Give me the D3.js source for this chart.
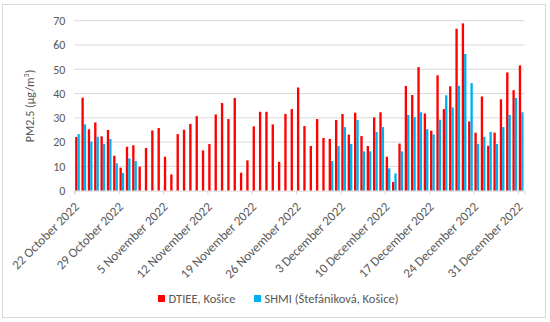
<!DOCTYPE html>
<html>
<head>
<meta charset="utf-8">
<script src="https://d3js.org/d3.v7.min.js"></script>
<style>
    body { margin: 0; background: #fff; }
    svg { font-family: Carlito, Lato, sans-serif; }
</style>
</head>
<body>
<svg width="550" height="322"></svg>
<script>
// daily PM2.5, 22 Oct 2022 .. 31 Dec 2022
var days = d3.timeDay.range(new Date(2022, 9, 22), new Date(2023, 0, 1));

var dtiee = [22.1, 38.3, 25.3, 28.1, 22.4, 25.0, 14.4, 9.5, 18.1, 18.7,
    9.9, 17.6, 24.8, 25.8, 14.0, 6.7, 23.3, 25.1, 27.5, 30.7,
    16.6, 19.2, 31.4, 36.1, 29.5, 38.2, 7.4, 12.5, 26.5, 32.5,
    32.5, 27.3, 11.9, 31.6, 33.6, 42.5, 26.6, 18.4, 29.5, 21.7,
    21.3, 29.1, 31.6, 23.1, 32.1, 22.5, 18.4, 30.2, 32.3, 14.0,
    3.6, 19.4, 43.1, 39.4, 50.9, 31.8, 24.7, 47.5, 33.6, 43.0,
    66.7, 68.9, 28.5, 23.9, 38.8, 18.5, 23.9, 37.6, 48.7, 41.4,
    51.6];

var shmi = [23.3, 27.3, 20.2, 22.2, 19.2, 21.3, 11.3, 7.3, 13.3, 12.2,
    null, null, null, null, null, null, null, null, null, null,
    null, null, null, null, null, null, null, null, null, null,
    null, null, null, null, null, null, null, null, null, null,
    12.2, 18.4, 26.2, 19.2, 29.1, 16.2, 16.2, 24.2, 26.2, 9.2,
    7.1, 16.2, 31.2, 30.3, 32.3, 25.3, 23.2, 29.2, 39.3, 34.3,
    43.2, 56.3, 44.3, 19.2, 22.2, 24.2, 19.2, 26.2, 31.2, 38.2,
    32.3];

var tickLabels = ["22 October 2022", "29 October 2022", "5 November 2022", "12 November 2022",
    "19 November 2022", "26 November 2022", "3 December 2022", "10 December 2022",
    "17 December 2022", "24 December 2022", "31 December 2022"];

var yTicks = [0, 10, 20, 30, 40, 50, 60, 70];

var seriesNames = ["DTIEE, Košice", "SHMI (Štefániková, Košice)"];
var colors = ["#ff0000", "#00b0f0"];

var svg = d3.select("svg"),
    plotLeft = 74.3,
    plotRight = 524.3,
    plotTop = 20.7,
    plotBottom = 190.7;

// chart border
svg.append("rect")
    .attr("x", 2.5).attr("y", 4.5)
    .attr("width", 543).attr("height", 313)
    .attr("fill", "none")
    .attr("stroke", "#d9d9d9");

var idx = d3.range(days.length);

var x = d3.scaleBand().domain(idx).range([plotLeft, plotRight]).paddingInner(0.26).paddingOuter(0.13);
var xs = d3.scaleBand().domain([0, 1]).range([0, x.bandwidth()]);
var xt = d3.scaleLinear().domain([0, days.length]).range([plotLeft, plotRight]);
var y = d3.scaleLinear().domain([0, 70]).range([plotBottom, plotTop]);

// gridlines
svg.append("g")
    .selectAll("line")
    .data(yTicks.slice(1))
    .enter().append("line")
    .attr("x1", plotLeft).attr("x2", plotRight)
    .attr("y1", function (d) { return y(d); })
    .attr("y2", function (d) { return y(d); })
    .attr("stroke", "#d9d9d9")
    .attr("stroke-width", 1);

// y axis labels
var yAxis = svg.append("g")
    .attr("transform", "translate(" + plotLeft + ",0)")
    .call(d3.axisLeft(y).tickValues(yTicks).tickSize(0).tickPadding(9));
yAxis.select(".domain").remove();
yAxis.selectAll("text")
    .attr("fill", "#595959")
    .style("font-family", "Carlito, Lato, sans-serif")
    .style("font-size", "12px");

// bars
var series = [dtiee, shmi];
series.forEach(function (vals, s) {
    svg.append("g")
        .selectAll("rect")
        .data(idx.filter(function (i) { return vals[i] != null; }))
        .enter().append("rect")
        .attr("x", function (i) { return x(i) + xs(s); })
        .attr("y", function (i) { return y(vals[i]); })
        .attr("width", xs.bandwidth())
        .attr("height", function (i) { return plotBottom - y(vals[i]); })
        .attr("fill", colors[s]);
});

// x axis
var xAxis = svg.append("g")
    .attr("transform", "translate(0," + plotBottom + ")")
    .call(d3.axisBottom(xt)
        .tickValues(d3.range(0, days.length, 7))
        .tickSizeOuter(0)
        .tickSize(4)
        .tickFormat(function (d, i) { return tickLabels[i]; }));
xAxis.select(".domain").attr("stroke", "#d9d9d9");
xAxis.selectAll(".tick line").attr("stroke", "#d9d9d9");
xAxis.selectAll("text")
    .attr("fill", "#595959")
    .style("font-family", "Carlito, Lato, sans-serif")
    .style("font-size", "13px")
    .attr("text-anchor", "end")
    .attr("dy", null)
    .attr("y", 0)
    .attr("transform", "translate(5,17) rotate(-45)");

// y title
svg.append("text")
    .attr("transform", "translate(34,106) rotate(-90)")
    .attr("text-anchor", "middle")
    .attr("fill", "#595959")
    .style("font-size", "12px")
    .html("PM2.5 (μg/m<tspan baseline-shift='super' font-size='8px'>3</tspan>)");

// legend
var legendX = [158, 254];
seriesNames.forEach(function (name, s) {
    var lg = svg.append("g").attr("transform", "translate(" + legendX[s] + ",295)");
    lg.append("rect")
        .attr("width", 7).attr("height", 7)
        .attr("fill", colors[s]);
    lg.append("text")
        .attr("x", 10.5).attr("y", 7.5)
        .attr("fill", "#595959")
        .style("font-size", "12.5px")
        .text(name);
});
</script>
</body>
</html>
